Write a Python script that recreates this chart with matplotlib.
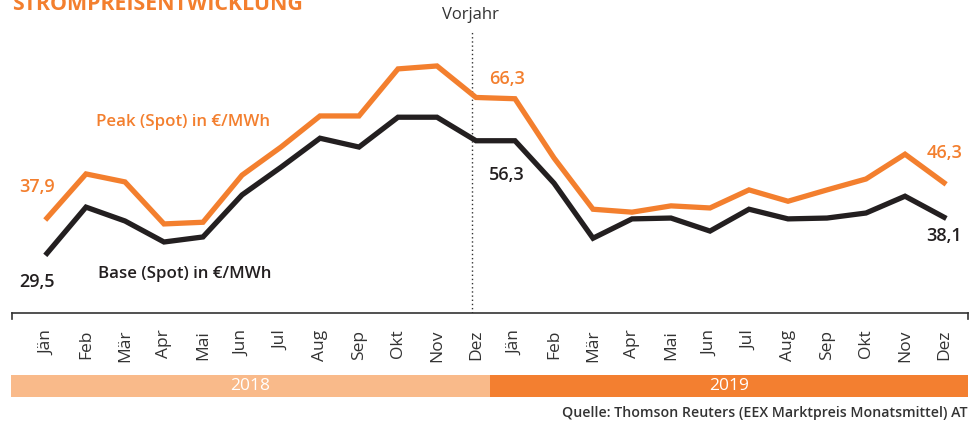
import numpy as np
import matplotlib.pyplot as plt
from matplotlib.patches import Rectangle

plt.rcParams['font.family'] = ['Open Sans', 'DejaVu Sans']

# monthly values 2018-2019, EUR/MWh
MONTHS = ["Jän", "Feb", "Mär", "Apr", "Mai", "Jun",
          "Jul", "Aug", "Sep", "Okt", "Nov", "Dez"]
YEARS = ["2018", "2019"]
PEAK = [37.9, 48.4, 46.5, 36.5, 36.9, 48.1, 54.8, 62.2, 62.2, 73.4, 74.1, 66.6,
        66.3, 52.2, 40.0, 39.3, 40.8, 40.3, 44.6, 41.9, 44.6, 47.2, 53.1, 46.3]
BASE = [29.5, 40.5, 37.2, 32.2, 33.4, 43.4, 50.0, 56.9, 54.8, 61.9, 61.9, 56.3,
        56.3, 46.2, 33.1, 37.7, 37.9, 34.8, 40.0, 37.7, 37.9, 39.1, 43.1, 38.1]

ORANGE = "#F37F2E"
DARK = "#231F20"
GREY = "#333333"

W, H = 979, 422
fig = plt.figure(figsize=(W / 100, H / 100), dpi=100)

# main plot area, pixel box -> figure fractions
ax = fig.add_axes([12 / W, (H - 313) / H, 956 / W, 313 / H])
x = np.arange(len(PEAK))
ax.set_xlim(-0.897, 23.615)
ax.set_ylim(15.3, 89.8)

ax.plot(x, PEAK, color=ORANGE, lw=3.8, solid_joinstyle='miter', zorder=3)
ax.plot(x, BASE, color=DARK, lw=3.8, solid_joinstyle='miter', zorder=3)

# previous-year divider
ax.plot([10.9, 10.9], [15.3, 82.7], color=GREY, lw=1, ls=(0, (1, 2)), zorder=1)
ax.text(10.85, 86.2, "Vorjahr", ha='center', va='center', fontsize=12, color=GREY)

for s in ["top", "left", "right"]:
    ax.spines[s].set_visible(False)
ax.spines["bottom"].set_color(GREY)
ax.spines["bottom"].set_linewidth(1.2)
ax.set_yticks([])
ax.set_xticks(x)
ax.set_xticklabels(MONTHS * 2, rotation=90, fontsize=12.5, color=GREY)
ax.tick_params(axis='x', length=0, pad=12)
for xe in (0, 1):
    ax.plot([xe, xe], [0, -0.02], transform=ax.transAxes, color=GREY,
            lw=1.2, clip_on=False)

# value labels at the first, year start and last points
lab = dict(fontsize=13, fontweight='semibold', ha='center', va='center',
           textcoords='offset pixels')
ax.annotate("37,9", (0, PEAK[0]), xytext=(-10, 31), color=ORANGE, **lab)
ax.annotate("29,5", (0, BASE[0]), xytext=(-10, -29), color=DARK, **lab)
ax.annotate("66,3", (12, PEAK[12]), xytext=(-8, 20), color=ORANGE, **lab)
ax.annotate("56,3", (12, BASE[12]), xytext=(-8, -34), color=DARK, **lab)
ax.annotate("46,3", (23, PEAK[23]), xytext=(1, 30), color=ORANGE, **lab)
ax.annotate("38,1", (23, BASE[23]), xytext=(0, -19), color=DARK, **lab)

ax.text(3.49, 60.8, "Peak (Spot) in €/MWh", color=ORANGE, fontsize=12.2,
        fontweight='semibold', ha='center', va='center')
ax.text(3.54, 24.6, "Base (Spot) in €/MWh", color=DARK, fontsize=12.2,
        fontweight='semibold', ha='center', va='center')

# year bands
band_y, band_h = (H - 397) / H, 22 / H
edges = [11, 490, 968]
for i, (yr, c) in enumerate(zip(YEARS, ["#F9BA8A", "#F37F30"])):
    x0, x1 = edges[i] / W, edges[i + 1] / W
    fig.add_artist(Rectangle((x0, band_y), x1 - x0, band_h, color=c,
                             transform=fig.transFigure, lw=0))
    fig.text((x0 + x1) / 2, band_y + band_h / 2, yr, color="white",
             fontsize=12.5, ha='center', va='center')

fig.text(968 / W, (H - 413) / H, "Quelle: Thomson Reuters (EEX Marktpreis Monatsmittel) AT",
         ha='right', va='center', fontsize=10.2, fontweight='semibold', color=GREY)

# headline, partly cut off at the top edge as in the original
fig.text(12 / W, (H - 10) / H, "STROMPREISENTWICKLUNG", ha='left',
         va='baseline', fontsize=15.4, fontweight='bold', color=ORANGE)

fig.savefig("out.png", dpi=100)
